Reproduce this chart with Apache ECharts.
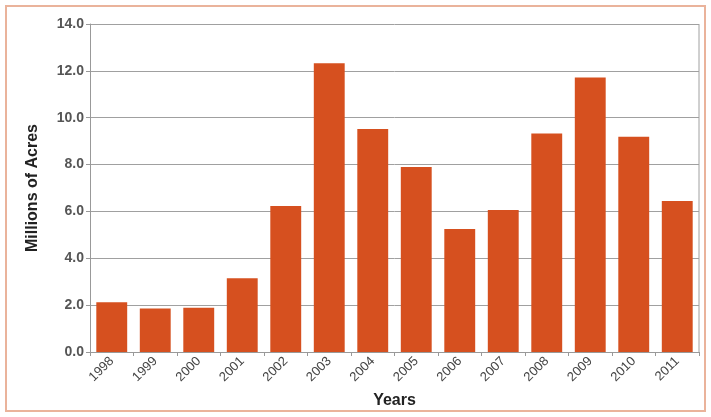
<!DOCTYPE html>
<html>
<head>
<meta charset="utf-8">
<script src="https://cdn.jsdelivr.net/npm/echarts@6/dist/echarts.min.js"></script>
<style>
  html, body { margin: 0; padding: 0; background: #fff; }
  #frame { position: absolute; left: 5px; top: 5px; width: 701px; height: 407px; border: 2px solid #eab39b; box-sizing: border-box; }
  #chart { width: 711px; height: 417px; position: absolute; left: 0; top: 0; }
</style>
</head>
<body>
<div id="frame"></div>
<div id="chart"></div>
<script>
var years = ['1998', '1999', '2000', '2001', '2002', '2003', '2004', '2005', '2006', '2007', '2008', '2009', '2010', '2011'];
var acres = [2.12, 1.86, 1.89, 3.15, 6.23, 12.33, 9.52, 7.9, 5.25, 6.06, 9.33, 11.72, 9.19, 6.44];

var myChart = echarts.init(document.getElementById('chart'));
var option = {
  animation: false,
  grid: { left: 90, right: 12, top: 24, bottom: 65 },
  xAxis: {
    type: 'category',
    data: years,
    name: 'Years',
    nameLocation: 'middle',
    nameGap: 41,
    nameTextStyle: { fontFamily: 'Liberation Sans', fontWeight: 'bold', fontSize: 16, color: '#222' },
    axisLine: { lineStyle: { color: '#999' } },
    axisTick: { show: true, length: 4, lineStyle: { color: '#999' } },
    axisLabel: { rotate: 45, fontFamily: 'Liberation Sans', fontSize: 13, color: '#444', margin: 7 }
  },
  yAxis: {
    type: 'value',
    min: 0,
    max: 14,
    interval: 2,
    name: 'Millions of Acres',
    nameLocation: 'middle',
    nameGap: 49,
    nameTextStyle: { fontFamily: 'Liberation Sans', fontWeight: 'bold', fontSize: 16, color: '#222' },
    axisLine: { show: true, lineStyle: { color: '#999' } },
    axisTick: { show: true, length: 4, lineStyle: { color: '#999' } },
    axisLabel: {
      fontFamily: 'Liberation Sans', fontSize: 14, fontWeight: 'bold', color: '#555', margin: 6,
      formatter: function (v) { return v.toFixed(1); }
    },
    splitLine: { lineStyle: { color: '#a0a0a0' } }
  },
  series: [{
    type: 'bar',
    data: acres,
    barWidth: '71%',
    itemStyle: { color: '#d6501f' }
  }]
};
myChart.setOption(option);

// right border of the plot
myChart.setOption({
  graphic: [{
    type: 'line',
    shape: { x1: 699, y1: 24, x2: 699, y2: 352 },
    style: { stroke: '#a0a0a0', lineWidth: 1 }
  }]
});
</script>
</body>
</html>
